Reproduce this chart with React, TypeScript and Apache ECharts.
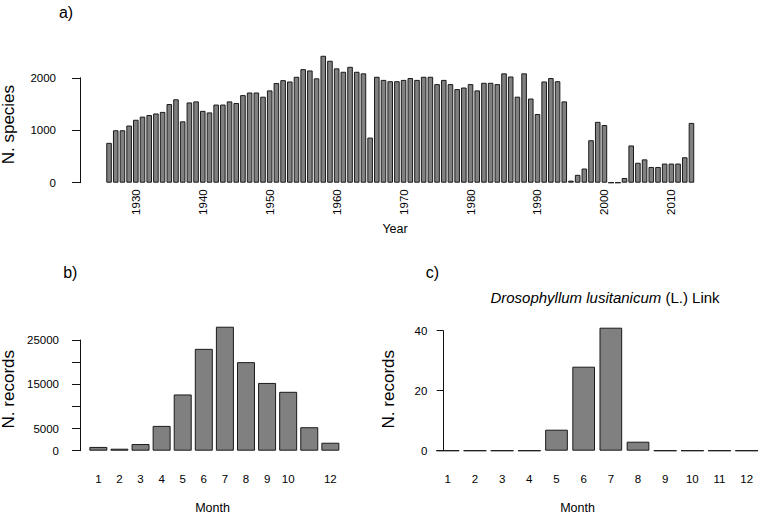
import React, { useEffect, useRef } from "react";
import * as echarts from "echarts";

// ---------- data ----------
const years = [
  "1926", "1927", "1928", "1929", "1930", "1931", "1932", "1933", "1934", "1935",
  "1936", "1937", "1938", "1939", "1940", "1941", "1942", "1943", "1944", "1945",
  "1946", "1947", "1948", "1949", "1950", "1951", "1952", "1953", "1954", "1955",
  "1956", "1957", "1958", "1959", "1960", "1961", "1962", "1963", "1964", "1965",
  "1966", "1967", "1968", "1969", "1970", "1971", "1972", "1973", "1974", "1975",
  "1976", "1977", "1978", "1979", "1980", "1981", "1982", "1983", "1984", "1985",
  "1986", "1987", "1988", "1989", "1990", "1991", "1992", "1993", "1994", "1995",
  "1996", "1997", "1998", "1999", "2000", "2001", "2002", "2003", "2004", "2005",
  "2006", "2007", "2008", "2009", "2010", "2011", "2012", "2013",
];
const speciesPerYear = [
  760, 1000, 1000, 1090, 1200, 1260, 1290, 1320, 1350, 1500,
  1590, 1170, 1530, 1550, 1370, 1340, 1490, 1490, 1550, 1520,
  1670, 1720, 1720, 1640, 1760, 1900, 1955, 1930, 2020, 2165,
  2140, 1990, 2420, 2325, 2180, 2115, 2210, 2115, 2085, 860,
  2020, 1960, 1935, 1935, 1960, 1995, 1960, 2020, 2020, 1880,
  1960, 1880, 1785, 1815, 1880, 1760, 1905, 1905, 1880, 2085,
  2025, 1640, 2085, 1605, 1310, 1930, 1995, 1935, 1550, 40,
  150, 270, 810, 1160, 1100, 0, 0, 90, 710, 380,
  445, 300, 300, 365, 365, 365, 485, 1140,
];
const yearTickLabels = ["1930", "1940", "1950", "1960", "1970", "1980", "1990", "2000", "2010"];
const speciesTicks = [0, 1000, 2000];

const months = ["1", "2", "3", "4", "5", "6", "7", "8", "9", "10", "11", "12"];
const monthTickLabelsB = ["1", "2", "3", "4", "5", "6", "7", "8", "9", "10", "12"];
const recordsAll = [850, 450, 1500, 5600, 12700, 23000, 28000, 20000, 15300, 13300, 5300, 1800];
const recordsTicksB = [0, 5000, 15000, 25000];

const recordsDroso = [0, 0, 0, 0, 7, 28, 41, 3, 0, 0, 0, 0];
const recordsTicksC = [0, 20, 40];

// ---------- styles ----------
const FONT = "'Liberation Sans', Arial, Helvetica, sans-serif";
const INK = "#111111";
const BAR_FILL = "#808080";
const BAR_EDGE = "#1a1a1a";
const TICK_FS = 11.5;

function barSeries(xi: number, data: number[], gap: string) {
  return {
    type: "bar",
    xAxisIndex: xi,
    yAxisIndex: xi,
    data,
    clip: false,
    barCategoryGap: gap,
    itemStyle: { color: BAR_FILL, borderColor: BAR_EDGE, borderWidth: 1 },
    emphasis: { disabled: true },
    silent: true,
  };
}

function yAxisCfg(gi: number, max: number, interval: number, offset: number, tickLen: number, margin: number, shown: number[]) {
  return {
    type: "value",
    gridIndex: gi,
    min: 0,
    max,
    interval,
    offset,
    axisLine: { show: true, lineStyle: { color: INK, width: 1 } },
    axisTick: { show: true, length: tickLen, lineStyle: { color: INK, width: 1 } },
    splitLine: { show: false },
    axisLabel: {
      show: true,
      margin,
      color: "#000",
      fontFamily: FONT,
      fontSize: TICK_FS,
      showMinLabel: true,
      showMaxLabel: true,
      formatter: (v: number) => (shown.indexOf(v) >= 0 ? String(v) : ""),
    },
  };
}

function xAxisCfg(gi: number, data: string[], shown: string[], rotate: number, margin: number) {
  return {
    type: "category",
    gridIndex: gi,
    data,
    boundaryGap: true,
    axisLine: { show: false },
    axisTick: { show: false },
    splitLine: { show: false },
    axisLabel: {
      show: true,
      rotate,
      margin,
      color: "#000",
      fontFamily: FONT,
      fontSize: TICK_FS,
      hideOverlap: false,
      interval: (_i: number, v: string) => shown.indexOf(v) >= 0,
    },
  };
}

function label(text: string, x: number, y: number, fontSize: number, rotation = 0) {
  return {
    type: "text",
    x,
    y,
    rotation,
    silent: true,
    style: {
      text,
      x: 0,
      y: 0,
      align: "center",
      verticalAlign: "middle",
      fill: "#000",
      lineHeight: Math.round(fontSize * 0.95),
      font: `${fontSize}px ${FONT}`,
    },
  };
}

export default function App() {
  const ref = useRef<HTMLDivElement>(null);

  useEffect(() => {
    if (!ref.current) return;
    const chart = echarts.init(ref.current, null, { renderer: "svg" });
    const option: any = {
      animation: false,
      backgroundColor: "#ffffff",
      textStyle: { fontFamily: FONT },
      grid: [
        { left: 105.7, right: 65.2, top: 77.8, bottom: 331.3, outerBoundsMode: "none", containLabel: false },
        { left: 87.8, right: 419.1, top: 340, bottom: 63.3, outerBoundsMode: "none", containLabel: false },
        { left: 434.2, right: -0.3, top: 330.7, bottom: 63.3, outerBoundsMode: "none", containLabel: false },
      ],
      xAxis: [
        xAxisCfg(0, years, yearTickLabels, 90, 6.6),
        xAxisCfg(1, months, monthTickLabelsB, 0, 22),
        xAxisCfg(2, months, months, 0, 22),
      ],
      yAxis: [
        yAxisCfg(0, 2000, 1000, 25.7, 8, 24, speciesTicks),
        yAxisCfg(1, 25000, 5000, 7.8, 8, 21, recordsTicksB),
        yAxisCfg(2, 40, 20, -9.1, 6.6, 16, recordsTicksC),
      ],
      series: [
        barSeries(0, speciesPerYear, "16.7%"),
        barSeries(1, recordsAll, "14.7%"),
        barSeries(2, recordsDroso, "16.5%"),
      ],
      graphic: [
        label("a)", 66, 12, 16),
        label("N. species", 8.8, 124.6, 17, Math.PI / 2),
        label("Year", 395, 229, 12.5),
        label("b)", 70.3, 272, 16),
        label("N. records", 8.8, 389.2, 17, Math.PI / 2),
        label("Month", 212.5, 507.8, 12.5),
        label("c)", 432.5, 272, 16),
        label("N. records", 388.6, 389.2, 17, Math.PI / 2),
        label("Month", 577.5, 507.8, 12.5),
        {
          type: "text",
          x: 605,
          y: 297.5,
          silent: true,
          style: {
            text: "{i|Drosophyllum lusitanicum} (L.) Link",
            align: "center",
            verticalAlign: "middle",
            fill: "#000",
            font: `15px ${FONT}`,
            rich: {
              i: { fontStyle: "italic", fontSize: 15, fontFamily: FONT, fill: "#000" },
            },
          },
        },
      ],
    };
    chart.setOption(option);
    return () => chart.dispose();
  }, []);

  return (
    <div
      ref={ref}
      style={{ position: "absolute", left: 0, top: 0, width: 760, height: 514, background: "#fff" }}
    />
  );
}
